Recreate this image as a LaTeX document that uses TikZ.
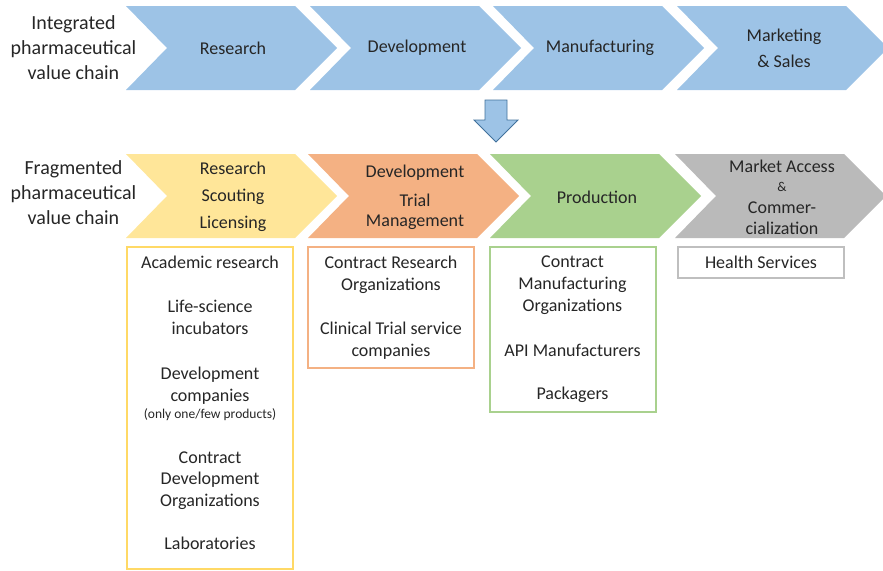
\documentclass[tikz,border=0pt]{standalone}
\usepackage{fontspec}
\setmainfont{Carlito}
\usetikzlibrary{arrows}
\usetikzlibrary{shapes}
\usepackage{xcolor}

\definecolor{chainblue}{HTML}{9DC3E6}
\definecolor{arrowline}{HTML}{41719C}
\definecolor{stageyellow}{HTML}{FFE699}
\definecolor{stageorange}{HTML}{F4B183}
\definecolor{stagegreen}{HTML}{A9D18E}
\definecolor{stagegray}{HTML}{BABABA}
\definecolor{frameyellow}{HTML}{FFD966}
\definecolor{framegray}{HTML}{BFBFBF}
\definecolor{textgray}{HTML}{262626}

\newcommand{\bigtxt}{\fontsize{18}{22}\selectfont}
\newcommand{\sidetxt}{\fontsize{20}{25}\selectfont}
\newcommand{\notetxt}{\fontsize{13.5}{16}\selectfont}

\tikzset{
    chainname/.style={align=center, text=textgray, font=\sidetxt},
    stagetext/.style={align=center, text=textgray, font=\bigtxt},
    actorbox/.style={draw, line width=2pt, anchor=north, minimum width=166, align=center, inner sep=0pt, text=textgray, font=\bigtxt},
}

\begin{document}
\begin{tikzpicture}[x=1pt,y=-1pt]
                \useasboundingbox (0,0) rectangle (883,570);
                \clip (0,0) rectangle (883,570);

                \node[chainname] (integrated) at (73.5,48) {Integrated\\pharmaceutical\\value chain};
                \node[chainname] (fragmented) at (73.5,192.5) {Fragmented\\pharmaceutical\\value chain};

                % integrated chain
                \foreach \x/\name/\txt in {126/research/Research, 310/development/Development, 493/manufacturing/Manufacturing, 677/marketing/{Marketing\\[4pt]\& Sales}} {
                    \fill[chainblue] (\x,6) -- ++(169,0) -- ++(42,42) -- ++(-42,42) -- ++(-169,0) -- ++(41,-42) -- cycle;
                    \node[stagetext] (\name) at (\x+107,48) {\txt};
                }

                \draw[arrowline, fill=chainblue, line width=0.8pt] (485,100) -- (507,100) -- (507,120) -- (518,120) -- (496,142) -- (474,120) -- (485,120) -- cycle;

                % fragmented chain
                \foreach \x/\col/\name/\txt in {126/stageyellow/scouting/{Research\\[5pt]Scouting\\[5pt]Licensing}, 308/stageorange/trials/{Development\\[7pt]Trial\\[-2pt]Management}, 490/stagegreen/production/Production, 675/stagegray/access/{Market Access\\[-3pt]{\notetxt\&}\\Commer-\\[-1pt]cialization}} {
                    \fill[\col] (\x,154) -- ++(169,0) -- ++(42,42) -- ++(-42,42) -- ++(-169,0) -- ++(41,-42) -- cycle;
                    \node[stagetext] (\name) at (\x+107,197) {\txt};
                }

                \node[actorbox, draw=frameyellow, minimum height=322] (academia) at (210,246)
                    {Academic research\\[22pt]Life-science\\incubators\\[23pt]Development\\companies\\[-5pt]{\notetxt (only one/few products)}\\[23pt]Contract\\[-1pt]Development\\Organizations\\[21pt]Laboratories\\[-11pt]\mbox{}};
                \node[actorbox, draw=stageorange, minimum height=121] (cros) at (391,246)
                    {Contract Research\\Organizations\\[22pt]Clinical Trial service\\companies};
                \node[actorbox, draw=stagegreen, minimum height=165] (cmos) at (572.5,246)
                    {Contract\\Manufacturing\\Organizations\\[23pt]API Manufacturers\\[21pt]Packagers};
                \node[actorbox, draw=framegray, minimum height=31] (health) at (761,246) {Health Services};
\end{tikzpicture}
\end{document}
